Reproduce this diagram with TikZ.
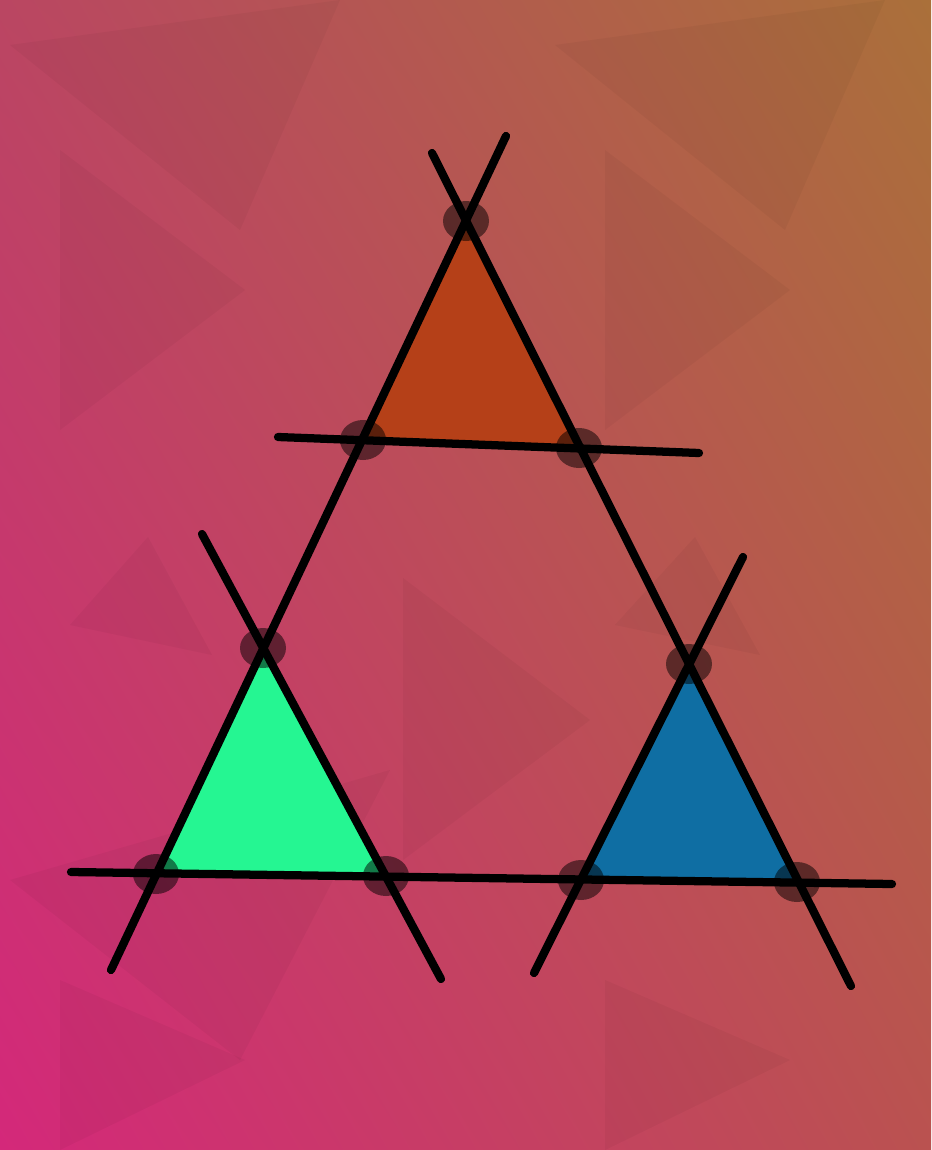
\documentclass[tikz,border=0pt]{standalone}
\usepackage{tikz}
\usetikzlibrary{shadings}

\definecolor{bgtl}{RGB}{186,70,98}
\definecolor{bgtr}{RGB}{170,112,58}
\definecolor{bgbl}{RGB}{212,40,122}
\definecolor{bgbr}{RGB}{186,82,80}
\definecolor{rust}{RGB}{181,64,24}
\definecolor{mint}{RGB}{37,246,146}
\definecolor{ocean}{RGB}{15,110,163}

\tikzset{
    bar/.style={line width=4.7pt, line cap=round, black},
    joint/.style={fill=black, fill opacity=0.5},
    facet/.style={fill=black, fill opacity=0.035},
}

\begin{document}
\begin{tikzpicture}[x=0.02cm, y=-0.02cm]
    \shade[upper left=bgtl, upper right=bgtr, lower left=bgbl, lower right=bgbr]
        (0,0) rectangle (931,1150);
    \useasboundingbox (0,0) rectangle (931,1150);
    % faint background pattern
    \fill[facet] (60,150) -- (245,290) -- (60,430) -- cycle;
    \fill[facet] (605,150) -- (790,290) -- (605,430) -- cycle;
    \fill[facet] (403,578) -- (590,720) -- (403,860) -- cycle;
    \fill[facet] (70,625) -- (148,537) -- (212,655) -- cycle;
    \fill[facet] (615,625) -- (695,537) -- (760,655) -- cycle;
    \fill[facet] (10,45) -- (240,230) -- (340,0) -- cycle;
    \fill[facet] (555,45) -- (785,230) -- (885,0) -- cycle;
    \fill[facet] (60,980) -- (245,1060) -- (60,1150) -- cycle;
    \fill[facet] (605,980) -- (790,1060) -- (605,1150) -- cycle;
    \fill[facet] (10,880) -- (240,1060) -- (390,770) -- cycle;

    % vertices
    \coordinate (topA) at (466,221);
    \coordinate (topL) at (363,440);
    \coordinate (topR) at (579,448);
    \coordinate (lftA) at (263,648);
    \coordinate (lftL) at (156,874);
    \coordinate (lftR) at (386,876);
    \coordinate (rgtA) at (689,664);
    \coordinate (rgtL) at (581,880);
    \coordinate (rgtR) at (797,882);

    % line ends
    \coordinate (e1) at (278,437);
    \coordinate (e2) at (699,453);
    \coordinate (e3) at (71,872);
    \coordinate (e4) at (892,884);
    \coordinate (e5) at (506,136);
    \coordinate (e6) at (111,970);
    \coordinate (e7) at (432,153);
    \coordinate (e8) at (851,986);
    \coordinate (e9) at (202,534);
    \coordinate (e10) at (441,979);
    \coordinate (e11) at (743,557);
    \coordinate (e12) at (534,973);

    \fill[rust] (topA) -- (topL) -- (topR) -- cycle;
    \fill[mint] (lftA) -- (lftL) -- (lftR) -- cycle;
    \fill[ocean] (rgtA) -- (rgtL) -- (rgtR) -- cycle;

    \foreach \p in {topA, topL, topR, lftA, lftL, lftR, rgtA, rgtL, rgtR}
        \fill[joint] (\p) ellipse [x radius=23, y radius=20];

    \draw[bar] (e1) -- (e2);
    \draw[bar] (e3) -- (e4);
    \draw[bar] (e5) -- (e6);
    \draw[bar] (e7) -- (e8);
    \draw[bar] (e9) -- (e10);
    \draw[bar] (e11) -- (e12);
\end{tikzpicture}
\end{document}
